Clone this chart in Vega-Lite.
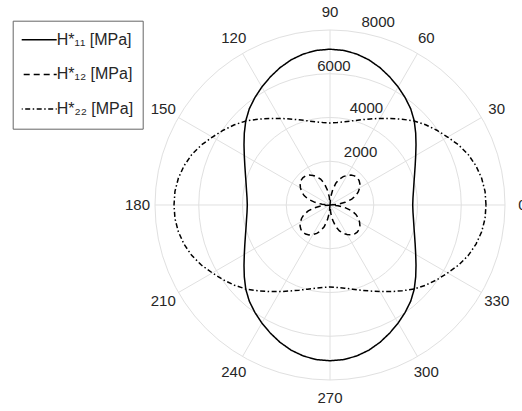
{
  "$schema": "https://vega.github.io/schema/vega-lite/v6.json",
  "width": 522,
  "height": 411,
  "padding": 0,
  "autosize": {"type": "none"},
  "background": "white",
  "config": {"view": {"stroke": null}, "font": "Liberation Sans"},
  "datasets": {
    "curves": [
      {"a":0,"H11":3781,"H12":0,"H22":7131},{"a":5,"H11":3808,"H12":366,"H22":7115},{"a":10,"H11":3876,"H12":700,"H22":7040},{"a":15,"H11":3975,"H12":1030,"H22":6910},
      {"a":20,"H11":4115,"H12":1260,"H22":6730},{"a":25,"H11":4297,"H12":1430,"H22":6490},{"a":30,"H11":4524,"H12":1560,"H22":6210},{"a":35,"H11":4800,"H12":1670,"H22":5960},
      {"a":40,"H11":5114,"H12":1737,"H22":5705},{"a":45,"H11":5445,"H12":1760,"H22":5435},{"a":50,"H11":5740,"H12":1737,"H22":5120},{"a":55,"H11":5990,"H12":1670,"H22":4833},
      {"a":60,"H11":6230,"H12":1560,"H22":4571},{"a":65,"H11":6460,"H12":1430,"H22":4338},{"a":70,"H11":6680,"H12":1260,"H22":4145},{"a":75,"H11":6870,"H12":1030,"H22":3985},
      {"a":80,"H11":7010,"H12":700,"H22":3862},{"a":85,"H11":7095,"H12":366,"H22":3786},{"a":90,"H11":7122,"H12":0,"H22":3749},{"a":95,"H11":7095,"H12":366,"H22":3786},
      {"a":100,"H11":7010,"H12":700,"H22":3862},{"a":105,"H11":6870,"H12":1030,"H22":3985},{"a":110,"H11":6680,"H12":1260,"H22":4145},{"a":115,"H11":6460,"H12":1430,"H22":4338},
      {"a":120,"H11":6230,"H12":1560,"H22":4571},{"a":125,"H11":5990,"H12":1670,"H22":4833},{"a":130,"H11":5740,"H12":1737,"H22":5120},{"a":135,"H11":5445,"H12":1760,"H22":5435},
      {"a":140,"H11":5114,"H12":1737,"H22":5705},{"a":145,"H11":4800,"H12":1670,"H22":5960},{"a":150,"H11":4524,"H12":1560,"H22":6210},{"a":155,"H11":4297,"H12":1430,"H22":6490},
      {"a":160,"H11":4115,"H12":1260,"H22":6730},{"a":165,"H11":3975,"H12":1030,"H22":6910},{"a":170,"H11":3876,"H12":700,"H22":7040},{"a":175,"H11":3808,"H12":366,"H22":7115},
      {"a":180,"H11":3781,"H12":0,"H22":7131},{"a":185,"H11":3808,"H12":366,"H22":7115},{"a":190,"H11":3876,"H12":700,"H22":7040},{"a":195,"H11":3975,"H12":1030,"H22":6910},
      {"a":200,"H11":4115,"H12":1260,"H22":6730},{"a":205,"H11":4297,"H12":1430,"H22":6490},{"a":210,"H11":4524,"H12":1560,"H22":6210},{"a":215,"H11":4800,"H12":1670,"H22":5960},
      {"a":220,"H11":5114,"H12":1737,"H22":5705},{"a":225,"H11":5445,"H12":1760,"H22":5435},{"a":230,"H11":5740,"H12":1737,"H22":5120},{"a":235,"H11":5990,"H12":1670,"H22":4833},
      {"a":240,"H11":6230,"H12":1560,"H22":4571},{"a":245,"H11":6460,"H12":1430,"H22":4338},{"a":250,"H11":6680,"H12":1260,"H22":4145},{"a":255,"H11":6870,"H12":1030,"H22":3985},
      {"a":260,"H11":7010,"H12":700,"H22":3862},{"a":265,"H11":7095,"H12":366,"H22":3786},{"a":270,"H11":7122,"H12":0,"H22":3749},{"a":275,"H11":7095,"H12":366,"H22":3786},
      {"a":280,"H11":7010,"H12":700,"H22":3862},{"a":285,"H11":6870,"H12":1030,"H22":3985},{"a":290,"H11":6680,"H12":1260,"H22":4145},{"a":295,"H11":6460,"H12":1430,"H22":4338},
      {"a":300,"H11":6230,"H12":1560,"H22":4571},{"a":305,"H11":5990,"H12":1670,"H22":4833},{"a":310,"H11":5740,"H12":1737,"H22":5120},{"a":315,"H11":5445,"H12":1760,"H22":5435},
      {"a":320,"H11":5114,"H12":1737,"H22":5705},{"a":325,"H11":4800,"H12":1670,"H22":5960},{"a":330,"H11":4524,"H12":1560,"H22":6210},{"a":335,"H11":4297,"H12":1430,"H22":6490},
      {"a":340,"H11":4115,"H12":1260,"H22":6730},{"a":345,"H11":3975,"H12":1030,"H22":6910},{"a":350,"H11":3876,"H12":700,"H22":7040},{"a":355,"H11":3808,"H12":366,"H22":7115}
    ],
    "rings": [{"ring": 2000}, {"ring": 4000}, {"ring": 6000}, {"ring": 8000}],
    "spokes": [{"angle":0},{"angle":30},{"angle":60},{"angle":90},{"angle":120},{"angle":150},{"angle":180},{"angle":210},{"angle":240},{"angle":270},{"angle":300},{"angle":330}]
  },
  "layer": [
    {
      "data": {"name": "rings"},
      "mark": {"type": "point", "shape": "circle", "filled": false, "stroke": "#e0e0e0", "strokeWidth": 1, "opacity": 1},
      "encoding": {
        "x": {"datum": 0, "type": "quantitative", "scale": {"domain": [-15086, 8777], "nice": false, "zero": false}, "axis": null},
        "y": {"datum": 0, "type": "quantitative", "scale": {"domain": [-9417, 9371], "nice": false, "zero": false}, "axis": null},
        "size": {"field": "ring", "type": "quantitative", "scale": {"type": "pow", "exponent": 2, "domain": [0, 8000], "range": [0, 122500]}, "legend": null}
      }
    },
    {
      "data": {"name": "spokes"},
      "transform": [
        {"calculate": "8000 * cos(datum.angle * PI / 180)", "as": "ex"},
        {"calculate": "8000 * sin(datum.angle * PI / 180)", "as": "ey"}
      ],
      "mark": {"type": "rule", "stroke": "#e0e0e0", "strokeWidth": 1},
      "encoding": {
        "x": {"field": "ex", "type": "quantitative"},
        "y": {"field": "ey", "type": "quantitative"},
        "x2": {"datum": 0},
        "y2": {"datum": 0}
      }
    },
    {
      "data": {"name": "curves"},
      "transform": [
        {"fold": ["H11", "H12", "H22"], "as": ["series", "r"]},
        {"calculate": "datum.r * cos(datum.a * PI / 180)", "as": "px"},
        {"calculate": "datum.r * sin(datum.a * PI / 180)", "as": "py"}
      ],
      "mark": {"type": "line", "interpolate": "linear-closed", "stroke": "black", "strokeWidth": 1.5},
      "encoding": {
        "x": {"field": "px", "type": "quantitative"},
        "y": {"field": "py", "type": "quantitative"},
        "order": {"field": "a", "type": "quantitative"},
        "strokeDash": {
          "field": "series", "type": "nominal",
          "scale": {"domain": ["H11", "H12", "H22"], "range": [[1, 0], [6, 4], [5, 2.5, 1.5, 2.5]]},
          "legend": {
            "orient": "none", "legendX": 12.7, "legendY": 20.7, "title": null,
            "symbolType": "stroke", "symbolSize": 1849, "symbolStrokeWidth": 1.5, "symbolStrokeColor": "black",
            "symbolOffset": -9, "labelOffset": -1, "clipHeight": 20, "padding": 9, "rowPadding": 14.7,
            "labelFont": "Liberation Sans", "labelFontSize": 16, "labelColor": "#262626",
            "strokeColor": "#666666", "fillColor": "white",
            "labelExpr": "datum.label == 'H11' ? 'H*₁₁ [MPa]' : datum.label == 'H12' ? 'H*₁₂ [MPa]' : 'H*₂₂ [MPa]'"
          }
        }
      }
    },
    {
      "data": {"name": "spokes"},
      "transform": [
        {"calculate": "8800 * cos(datum.angle * PI / 180)", "as": "lx"},
        {"calculate": "8800 * sin(datum.angle * PI / 180)", "as": "ly"}
      ],
      "mark": {"type": "text", "font": "Liberation Sans", "fontSize": 15, "color": "#262626", "align": "center", "baseline": "middle"},
      "encoding": {
        "x": {"field": "lx", "type": "quantitative"},
        "y": {"field": "ly", "type": "quantitative"},
        "text": {"field": "angle", "type": "quantitative"}
      }
    },
    {
      "data": {"name": "rings"},
      "transform": [
        {"filter": "datum.ring != 6000"},
        {"calculate": "datum.ring * cos(82.3 * PI / 180)", "as": "lx"},
        {"calculate": "datum.ring * sin(82.3 * PI / 180)", "as": "ly"}
      ],
      "mark": {"type": "text", "font": "Liberation Sans", "fontSize": 15, "color": "#262626", "align": "left", "baseline": "alphabetic", "dx": 8, "dy": -5},
      "encoding": {
        "x": {"field": "lx", "type": "quantitative"},
        "y": {"field": "ly", "type": "quantitative"},
        "text": {"field": "ring", "type": "nominal"}
      }
    },
    {
      "data": {"name": "rings"},
      "transform": [
        {"filter": "datum.ring == 6000"},
        {"calculate": "datum.ring * cos(82.3 * PI / 180)", "as": "lx"},
        {"calculate": "datum.ring * sin(82.3 * PI / 180)", "as": "ly"}
      ],
      "mark": {"type": "text", "font": "Liberation Sans", "fontSize": 15, "color": "#262626", "align": "right", "baseline": "alphabetic", "dx": 3, "dy": -4},
      "encoding": {
        "x": {"field": "lx", "type": "quantitative"},
        "y": {"field": "ly", "type": "quantitative"},
        "text": {"field": "ring", "type": "nominal"}
      }
    }
  ]
}
